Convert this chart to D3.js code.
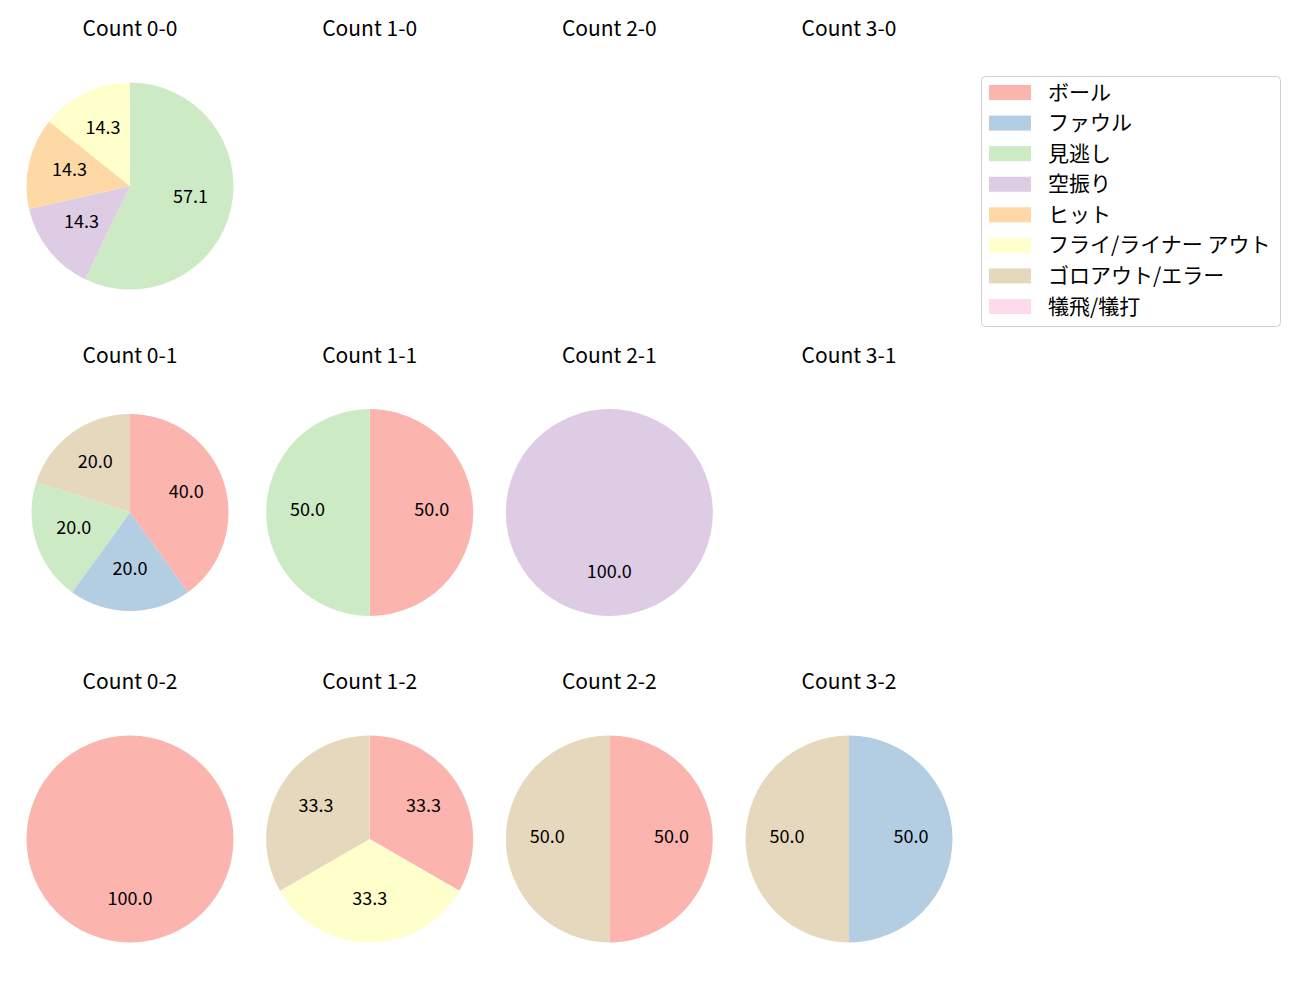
<!DOCTYPE html>
<html><head><meta charset="utf-8">
<script src="https://cdn.jsdelivr.net/npm/d3@7"></script>
<style>body{margin:0;background:#fff;} svg{display:block;}</style>
</head><body>
<svg id="chart" width="1300" height="1000"></svg>
<script>
const categories = ["ボール","ファウル","見逃し","空振り","ヒット","フライ/ライナー アウト","ゴロアウト/エラー","犠飛/犠打"];
const colors = ["#fbb4ae","#b3cde3","#ccebc5","#decbe4","#fed9a6","#ffffcc","#e5d8bd","#fddaec"];
const counts = ["0-0","1-0","2-0","3-0","0-1","1-1","2-1","3-1","0-2","1-2","2-2","3-2"];
// values per count, in category order
const v00 = [0,0,4,1,1,1,0,0];
const v10 = [0,0,0,0,0,0,0,0];
const v20 = [0,0,0,0,0,0,0,0];
const v30 = [0,0,0,0,0,0,0,0];
const v01 = [2,1,1,0,0,0,1,0];
const v11 = [1,0,1,0,0,0,0,0];
const v21 = [0,0,0,1,0,0,0,0];
const v31 = [0,0,0,0,0,0,0,0];
const v02 = [1,0,0,0,0,0,0,0];
const v12 = [1,0,0,0,0,1,1,0];
const v22 = [1,0,0,0,0,0,1,0];
const v32 = [0,1,0,0,0,0,1,0];
const values = [v00,v10,v20,v30,v01,v11,v21,v31,v02,v12,v22,v32];

const svg = d3.select("#chart");
const font = "'Noto Sans CJK JP','Noto Sans',sans-serif";
const colX = d3.scalePoint().domain([0,1,2,3]).range([130,849]);
const rowY = d3.scalePoint().domain([0,1,2]).range([186,839]);
const radiusFor = i => (i === 4 ? 98.5 : 103.5);

counts.forEach((c, i) => {
  const col = i % 4, row = Math.floor(i / 4);
  const cx = colX(col), cy = rowY(row);
  const g = svg.append("g").attr("transform", `translate(${cx},${cy})`);
  svg.append("text").attr("x", cx).attr("y", cy - 150)
    .attr("text-anchor","middle").attr("font-family",font).attr("font-size",21)
    .attr("fill","#000").text("Count " + c);
  const vals = values[i];
  const total = d3.sum(vals);
  if (total === 0) return;
  const data = vals.map((v, k) => ({v, k})).filter(d => d.v > 0);
  const r = radiusFor(i);
  const pie = d3.pie().value(d => d.v).sort(null).startAngle(0).endAngle(2*Math.PI);
  const arcs = pie(data);
  const arc = d3.arc().innerRadius(0).outerRadius(r);
  g.selectAll("path").data(arcs).join("path")
    .attr("d", arc).attr("fill", d => colors[d.data.k]);
  const lab = d3.arc().innerRadius(r*0.6).outerRadius(r*0.6);
  g.selectAll("text").data(arcs).join("text")
    .attr("transform", d => `translate(${lab.centroid(d)})`)
    .attr("text-anchor","middle").attr("dy","0.2em")
    .attr("font-family",font).attr("font-size",18).attr("fill","#000")
    .text(d => (d.data.v/total*100).toFixed(1));
});

// legend
const lg = svg.append("g");
lg.append("rect").attr("x",981.5).attr("y",76.5).attr("width",299).attr("height",250)
  .attr("rx",4).attr("fill","#fff").attr("stroke","#d0d0d0").attr("stroke-width",1);
const ly = d3.scaleLinear().domain([0,7]).range([92,306]);
categories.forEach((name, k) => {
  lg.append("rect").attr("x",989).attr("y",ly(k)-7).attr("width",42).attr("height",15).attr("fill",colors[k]);
  lg.append("text").attr("x",1048).attr("y",ly(k)).attr("dy","0.36em")
    .attr("font-family",font).attr("font-size",21).attr("fill","#000").text(name);
});
</script>
</body></html>
